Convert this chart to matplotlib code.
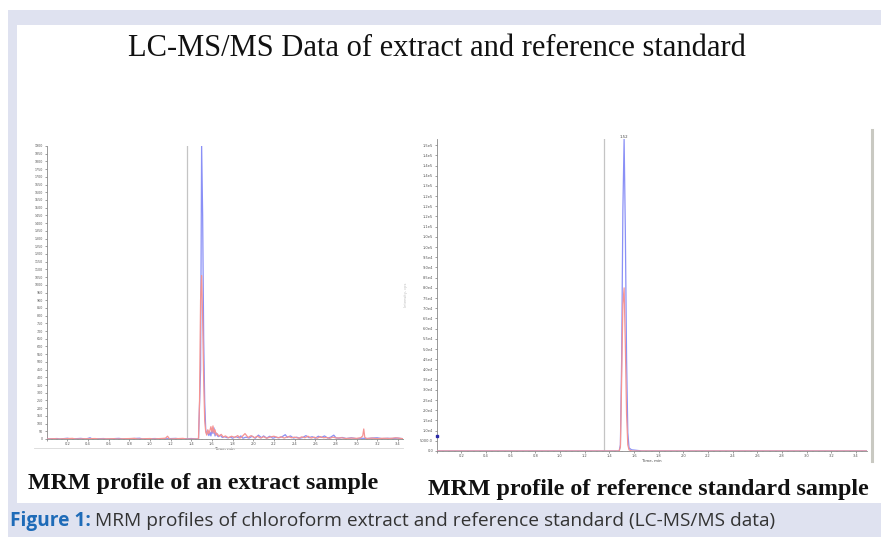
import matplotlib
matplotlib.use("Agg")
import matplotlib.pyplot as plt
from matplotlib.patches import Rectangle
from matplotlib.lines import Line2D
from matplotlib.ticker import MultipleLocator, FuncFormatter

# --- data : extract sample (left panel) ---
ext_t_blue = [0.00, 0.10, 0.13, 0.20, 0.24, 0.33, 0.38, 0.42, 0.44, 0.55, 0.58, 0.70, 0.74,
              0.90, 0.93, 1.05, 1.10, 1.25, 1.30, 1.40, 1.45, 1.47, 1.49, 1.50, 1.51, 1.52,
              1.53, 1.54, 1.55, 1.56, 1.57, 1.58, 1.59, 1.60, 1.61, 1.62, 1.63, 1.64, 1.66,
              1.68, 1.70, 1.72, 1.75, 1.78, 1.80, 1.83, 1.86, 1.88, 1.90, 1.93, 1.96, 1.99,
              2.02, 2.05, 2.08, 2.10, 2.13, 2.16, 2.19, 2.22, 2.25, 2.28, 2.31, 2.33, 2.36,
              2.39, 2.42, 2.45, 2.48, 2.51, 2.54, 2.57, 2.60, 2.63, 2.66, 2.69, 2.72, 2.75,
              2.78, 2.80, 2.83, 2.86, 2.90, 2.95, 3.00, 3.05, 3.10, 3.15, 3.20, 3.25, 3.30,
              3.35, 3.40, 3.45]
ext_i_blue = [0, 3, 0, 5, 0, 4, 0, 8, 0, 3, 0, 4, 0,
              5, 0, 3, 0, 4, 0, 3, 0, 0, 450, 1910, 1450, 650,
              240, 60, 30, 55, 22, 45, 20, 62, 35, 72, 20, 40, 15,
              25, 10, 15, 8, 12, 5, 15, 8, 20, 5, 12, 6, 18,
              5, 25, 8, 20, 6, 18, 5, 12, 8, 15, 28, 10, 20,
              6, 12, 5, 10, 22, 8, 15, 5, 18, 10, 20, 6, 12,
              25, 8, 5, 10, 3, 8, 2, 5, 3, 6, 8, 2, 5,
              3, 6, 2]

ext_t_red = [0.00, 0.08, 0.11, 0.25, 0.28, 0.47, 0.50, 0.65, 0.68, 0.85, 0.88, 1.00, 1.03,
             1.15, 1.17, 1.19, 1.32, 1.35, 1.47, 1.48, 1.49, 1.50, 1.51, 1.52, 1.53, 1.54,
             1.55, 1.56, 1.57, 1.58, 1.59, 1.60, 1.61, 1.62, 1.63, 1.64, 1.65, 1.67, 1.69,
             1.71, 1.73, 1.76, 1.79, 1.82, 1.85, 1.87, 1.89, 1.92, 1.95, 1.98, 2.01, 2.04,
             2.07, 2.10, 2.13, 2.16, 2.20, 2.24, 2.27, 2.30, 2.34, 2.37, 2.40, 2.44, 2.47,
             2.50, 2.53, 2.56, 2.59, 2.62, 2.65, 2.68, 2.71, 2.74, 2.77, 2.81, 2.85, 2.90,
             2.95, 3.00, 3.04, 3.06, 3.07, 3.08, 3.10, 3.15, 3.20, 3.26, 3.32, 3.38, 3.42, 3.45]
ext_i_red = [0, 2, 0, 4, 0, 3, 0, 2, 0, 4, 0, 3, 0,
             5, 18, 0, 4, 0, 0, 250, 900, 1060, 780, 380, 120, 45,
             25, 60, 35, 55, 80, 45, 85, 40, 60, 25, 35, 18, 30,
             12, 20, 8, 18, 10, 22, 6, 14, 35, 10, 22, 8, 18,
             6, 15, 5, 12, 18, 8, 14, 6, 16, 8, 12, 5, 14,
             8, 18, 6, 12, 5, 15, 8, 10, 4, 12, 6, 8, 3,
             6, 4, 8, 20, 65, 10, 3, 6, 2, 5, 3, 8, 4, 2]

# --- data : reference standard (right panel) ---
ref_t_blue = [0.00, 1.47, 1.48, 1.49, 1.50, 1.51, 1.52, 1.53, 1.54, 1.55, 1.56, 1.58, 1.61,
              1.64, 1.66, 3.49]
ref_i_blue = [0, 0, 0, 3000, 45000, 118000, 153000, 108000, 45000, 9000, 1500, 600, 400,
              200, 0, 0]
ref_t_red = [0.00, 1.47, 1.48, 1.49, 1.50, 1.51, 1.52, 1.53, 1.54, 1.55, 1.56, 1.58, 3.49]
ref_i_red = [0, 0, 0, 2000, 35000, 72000, 80000, 52000, 18000, 3000, 600, 0, 0]
ref_peak_rt = "1.52"
cut_time = 1.355

title = "LC-MS/MS Data of extract and reference standard"
sub_left = "MRM profile of an extract sample"
sub_right = "MRM profile of reference standard sample"
caption_bold = "Figure 1:"
caption_text = "MRM profiles of chloroform extract and reference standard (LC-MS/MS data)"

BLUE = "#8a90f6"
RED = "#f59393"
FRAME = "#dfe2f0"

fig = plt.figure(figsize=(8.81, 5.37), dpi=100)
fig.patch.set_facecolor("white")

# lavender frame + caption band (pixel coords -> figure fraction)
W, H = 881.0, 537.0
def box(x0, y0, x1, y1, color):
    fig.add_artist(Rectangle((x0 / W, 1 - y1 / H), (x1 - x0) / W, (y1 - y0) / H,
                             transform=fig.transFigure, color=color, lw=0, zorder=0))

box(8, 10, 881, 25, FRAME)
box(8, 10, 17, 537, FRAME)
box(8, 503, 881, 537, FRAME)

fig.text(437 / W, 1 - 48.5 / H, title, family="Liberation Serif", fontsize=22,
         ha="center", va="center", color="#111111")
fig.text(28 / W, 1 - 483 / H, sub_left, family="Liberation Serif", fontsize=17.3,
         fontweight="bold", ha="left", va="center", color="#111111")
fig.text(428 / W, 1 - 489 / H, sub_right, family="Liberation Serif", fontsize=17.3,
         fontweight="bold", ha="left", va="center", color="#111111")
t = fig.text(10 / W, 1 - 521 / H, caption_bold, family="Open Sans", fontsize=13.8,
             fontweight="bold", ha="left", va="center", color="#1e6bb8")
fig.canvas.draw()
bb = t.get_window_extent()
fig.text((bb.x1 + 4) / W, 1 - 521 / H, caption_text, family="Open Sans", fontsize=13.8,
         ha="left", va="center", color="#333333")


def style_axes(ax, xmax, ymax, ystep, fmt):
    ax.set_xlim(0, xmax)
    ax.set_ylim(0, ymax)
    for s in ["top", "right"]:
        ax.spines[s].set_visible(False)
    for s in ["left", "bottom"]:
        ax.spines[s].set_color("#888888")
        ax.spines[s].set_linewidth(0.6)
    ax.xaxis.set_major_locator(MultipleLocator(0.2))
    ax.xaxis.set_minor_locator(MultipleLocator(0.05))
    ax.yaxis.set_major_locator(MultipleLocator(ystep))
    ax.yaxis.set_major_formatter(FuncFormatter(fmt))
    ax.xaxis.set_major_formatter(FuncFormatter(lambda v, p: "" if v < 0.01 else f"{v:.1f}"))
    ax.tick_params(axis="both", which="major", labelsize=2.6, length=1.5, width=0.4,
                   colors="#555555", pad=1)
    ax.tick_params(axis="both", which="minor", length=0.8, width=0.3, colors="#777777")
    ax.set_xlabel("Time, min", fontsize=2.8, color="#444444", labelpad=0.5)
    ax.axvline(cut_time, color="#c4c4c4", lw=0.9, zorder=1)


def sci_fmt(v, p):
    if v == 0:
        return "0.0"
    if v < 10000:
        return f"{v:.1f}"
    m, e = f"{v:.1e}".split("e")
    return f"{m}e{int(e)}"


# left panel
axl = fig.add_axes([46.7 / W, 1 - 439 / H, (403 - 46.7) / W, (439 - 146) / H])
axl.plot(ext_t_blue, ext_i_blue, color=BLUE, lw=0.9, zorder=3)
axl.plot(ext_t_red, ext_i_red, color=RED, lw=0.9, zorder=4)
style_axes(axl, 3.45, 1900, 50, lambda v, p: f"{v:.0f}")
axl.tick_params(axis="y", labelsize=2.3)

# right panel
axr = fig.add_axes([436.7 / W, 1 - 451 / H, (867 - 436.7) / W, (451 - 139) / H])
axr.plot(ref_t_blue, ref_i_blue, color=BLUE, lw=0.9, zorder=3)
axr.plot(ref_t_red, ref_i_red, color=RED, lw=0.9, zorder=4)
style_axes(axr, 3.49, 153000, 5000, sci_fmt)
axr.set_ylabel("Intensity, cps", fontsize=2.6, color="#bbbbbb", labelpad=9)
axr.text(1.52, 153000, ref_peak_rt, fontsize=2.8, color="#444444", ha="center", va="bottom")
axr.plot([0], [7500], marker="s", ms=2, color="#2a2aa8", clip_on=False, zorder=5)

# separator line under left panel and grey bar at right edge
fig.add_artist(Line2D([34 / W, 403 / W], [1 - 448 / H, 1 - 448 / H], color="#d8d8d8", lw=0.6))
fig.add_artist(Line2D([872 / W, 872 / W], [1 - 130 / H, 1 - 461 / H], color="#c9c9c2", lw=2.2))

fig.savefig("out.png", dpi=100)
